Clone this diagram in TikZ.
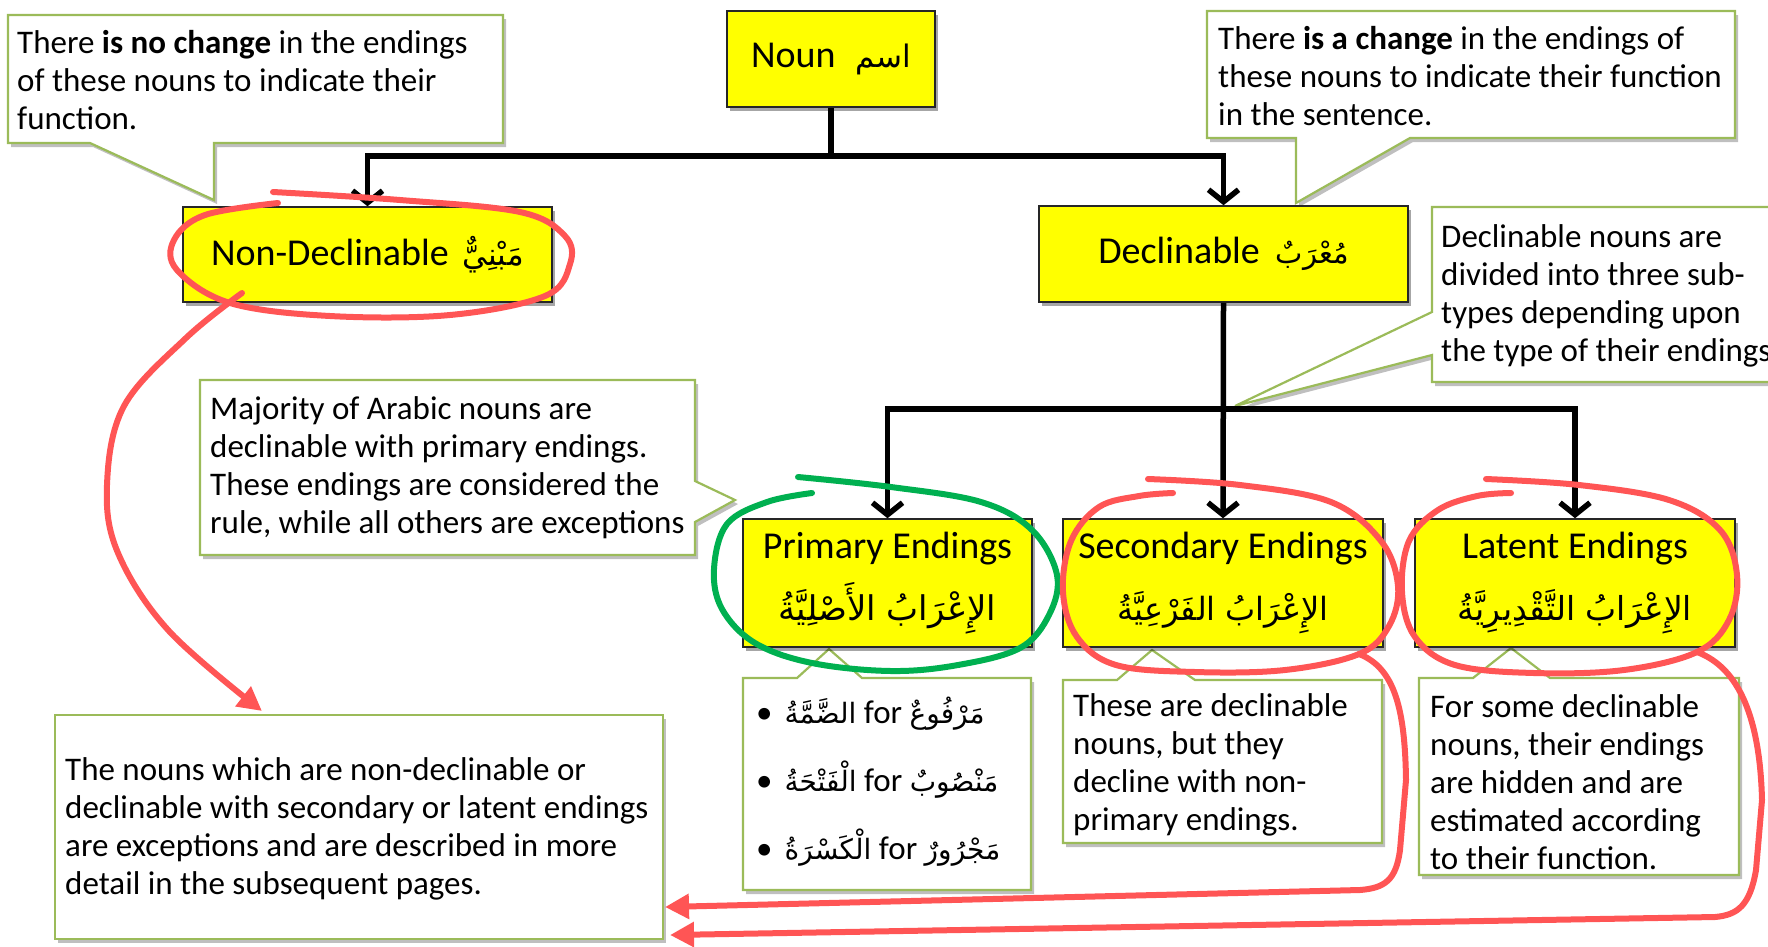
\documentclass[tikz,border=0pt]{standalone}
\usepackage{fontspec}
\setmainfont{Carlito}
\newfontfamily\arabicfont[Script=Arabic]{DejaVu Sans}
\TeXXeTstate=1
\usetikzlibrary{arrows.meta,shadows,calc}
\definecolor{boxyellow}{RGB}{255,255,0}
\definecolor{callgreen}{RGB}{155,187,89}
\definecolor{inkred}{RGB}{255,85,85}
\definecolor{inkgreen}{RGB}{0,176,80}
\newcommand{\arb}[2]{{\fontsize{#1}{\baselineskip}\selectfont\arabicfont\beginR #2\endR}}
\pgfdeclarelayer{background}
\pgfsetlayers{background,main}
\begin{document}
\begin{tikzpicture}[x=1pt,y=-1pt,
  ybox/.style={draw=black!85, line width=1.5pt, fill=boxyellow, align=center, inner sep=0pt,
    font=\fontsize{38}{44}\selectfont,
    drop shadow={shadow xshift=3pt, shadow yshift=-4pt, opacity=0.35, fill=black}},
  callout/.style={draw=callgreen, line width=2.2pt, fill=white, line join=miter,
    drop shadow={shadow xshift=3pt, shadow yshift=-4pt, opacity=0.25, fill=black}},
  ctext/.style={anchor=west, align=left, inner sep=0pt, font=\fontsize{33}{38}\selectfont},
  conn/.style={line width=5.5pt, line join=miter, -{Straight Barb[length=12pt,width=30pt]}},
  ink/.style={draw=inkred, line width=6pt, line cap=round, line join=round},
  inkarrow/.style={ink, -{Triangle[length=24pt,width=24pt]}},
]
\useasboundingbox (0,0) rectangle (1768,946);

% ---------- callout shapes (background) ----------
\begin{pgfonlayer}{background}
\path[callout] (8,15) -- (503,15) -- (503,143) -- (214,143) -- (214,200) -- (90,143) -- (8,143) -- cycle;
\path[callout] (1207,11) -- (1735,11) -- (1735,138) -- (1410,138) -- (1296,203) -- (1296,138) -- (1207,138) -- cycle;
\path[callout] (1432,207) -- (1800,207) -- (1800,382) -- (1432,382) -- (1432,355) -- (1235,406) -- (1432,312) -- cycle;
\path[callout] (200,380) -- (695,380) -- (695,481) -- (735,500) -- (695,522) -- (695,555) -- (200,555) -- cycle;
\path[callout] (743,678) -- (797,678) -- (829,649) -- (862,678) -- (1031,678) -- (1031,890) -- (743,890) -- cycle;
\path[callout] (1063,680) -- (1117,680) -- (1152,650) -- (1195,680) -- (1382,680) -- (1382,843) -- (1063,843) -- cycle;
\path[callout] (1419,678) -- (1473,678) -- (1511,648) -- (1550,678) -- (1739,678) -- (1739,875) -- (1419,875) -- cycle;
\path[callout] (55,715) rectangle (663,939);
\end{pgfonlayer}

% ---------- callout texts ----------
\node[ctext] (t1) at (17,80) {There \textbf{is no change} in the endings\\of these nouns to indicate their\\function.};
\node[ctext] (t2) at (1218,76) {There \textbf{is a change} in the endings of\\these nouns to indicate their function\\in the sentence.};
\node[ctext] (t3) at (1441,296) {Declinable nouns are\\divided into three sub-\\types depending upon\\the type of their endings};
\node[ctext] (t4) at (210,468) {Majority of Arabic nouns are\\declinable with primary endings.\\These endings are considered the\\rule, while all others are exceptions};
\node[ctext, font=\fontsize{33}{68}\selectfont] (t5) at (756,782) {%
  \textbullet\hspace{12pt}\arb{28}{الضَّمَّةُ} for \arb{28}{مَرْفُوعٌ}\\
  \textbullet\hspace{12pt}\arb{28}{الْفَتْحَةُ} for \arb{28}{مَنْصُوبٌ}\\
  \textbullet\hspace{12pt}\arb{28}{الْكَسْرَةُ} for \arb{28}{مَجْرُورٌ}};
\node[ctext] (t6) at (1073,765) {These are declinable\\nouns, but they\\decline with non-\\primary endings.};
\node[ctext] (t7) at (1430,782) {For some declinable\\nouns, their endings\\are hidden and are\\estimated according\\to their function.};
\node[ctext] (t8) at (65,829) {The nouns which are non-declinable or\\declinable with secondary or latent endings\\are exceptions and are described in more\\detail in the subsequent pages.};

% ---------- yellow boxes ----------
\node[ybox, minimum width=208, minimum height=96] (noun) at (831,59) {Noun\hspace{20pt}\arb{31}{اسم}};
\node[ybox, minimum width=369, minimum height=95] (nondecl) at (367.5,254.5) {Non-Declinable\hspace{14pt}\arb{31}{مَبْنِيٌّ}};
\node[ybox, minimum width=369, minimum height=96] (decl) at (1223.5,254) {Declinable\hspace{16pt}\arb{29}{مُعْرَبٌ}};
\node[ybox, minimum width=289, minimum height=128, font=\fontsize{38}{62}\selectfont] (primary) at (887.5,583) {Primary Endings\\\arb{34}{الإِعْرَابُ الأَصْلِيَّةُ}};
\node[ybox, minimum width=320, minimum height=128, font=\fontsize{38}{62}\selectfont] (secondary) at (1223,583) {Secondary Endings\\\arb{32}{الإِعْرَابُ الفَرْعِيَّةُ}};
\node[ybox, minimum width=320, minimum height=128, font=\fontsize{38}{62}\selectfont] (latent) at (1575,583) {Latent Endings\\\arb{33}{الإِعْرَابُ التَّقْدِيرِيَّةُ}};

% ---------- connectors ----------
\coordinate (j1) at (831,156);
\coordinate (j2) at (1223.5,409);
\draw[conn] (noun.south) -- (j1) -| (nondecl.north);
\draw[conn] (j1) -| (decl.north);
\draw[conn] (decl.south) -- (secondary.north);
\draw[conn] (j2) -| (primary.north);
\draw[conn] (j2) -| (latent.north);

% ---------- hand-drawn annotations ----------
\draw[ink] plot[smooth, tension=0.6] coordinates {(273,192) (400,200) (520,212) (565,236) (570,264) (545,296) (450,315) (330,316) (230,303) (177,270) (174,240) (205,215) (278,203)};
\draw[inkarrow] plot[smooth, tension=0.6] coordinates {(242,293) (186,338) (124,406) (107,485) (118,553) (169,631) (262,711)};

\draw[draw=inkgreen, line width=6pt, line cap=round] plot[smooth, tension=0.6] coordinates {(798,477) (891,487) (981,502) (1032,530) (1057,575) (1049,615) (1020,648) (958,665) (891,671) (812,663) (755,643) (722,609) (714,569) (727,524) (767,502) (812,493)};

\draw[ink] plot[smooth, tension=0.6] coordinates {(1148,479) (1240,485) (1331,502) (1381,541) (1398,586) (1389,626) (1359,654) (1285,670) (1195,672) (1116,665) (1077,637) (1063,592) (1071,541) (1099,507) (1139,496) (1173,493)};
\draw[inkarrow] (1359,654) .. controls (1395,668) and (1405,710) .. (1406,780) -- (1400,850) .. controls (1396,880) and (1385,888) .. (1360,890) -- (665,907);

\draw[ink] plot[smooth, tension=0.6] coordinates {(1486,479) (1579,485) (1669,500) (1720,530) (1737,575) (1729,620) (1697,652) (1624,670) (1534,673) (1455,665) (1415,637) (1402,592) (1409,541) (1438,510) (1477,496) (1511,493)};
\draw[inkarrow] (1697,652) .. controls (1740,668) and (1760,720) .. (1762,800) -- (1756,870) .. controls (1750,905) and (1738,915) .. (1715,917) -- (670,935);
\end{tikzpicture}
\end{document}
